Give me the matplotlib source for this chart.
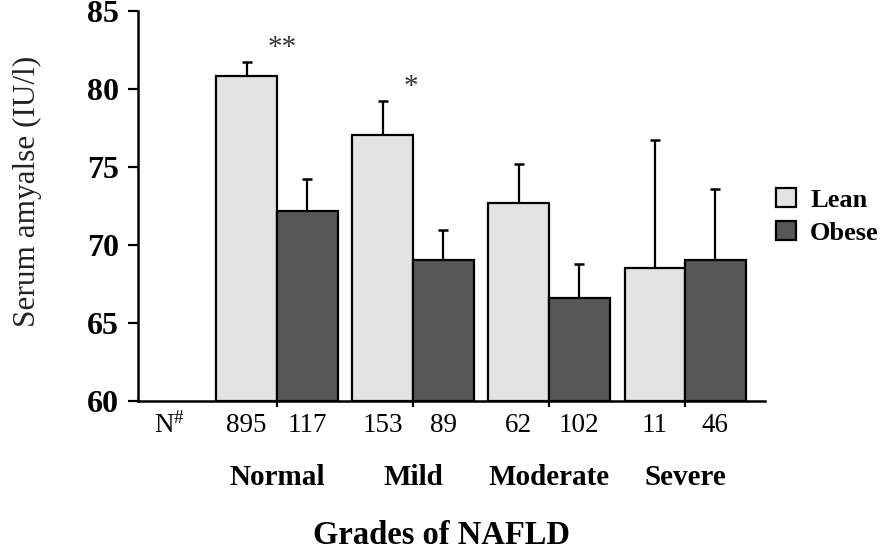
import matplotlib
matplotlib.use("Agg")
import matplotlib.pyplot as plt
import numpy as np

grades = ["Normal", "Mild", "Moderate", "Severe"]
lean = [80.8, 77.05, 72.7, 68.5]
lean_err = [0.9, 2.15, 2.5, 8.2]
obese = [72.2, 69.0, 66.6, 69.0]
obese_err = [2.0, 1.95, 2.2, 4.6]
n_lean = [895, 153, 62, 11]
n_obese = [117, 89, 102, 46]
stars = ["**", "*"]
star_x = [0.04, 0.985]
star_y = [82.6, 80.1]

plt.rcParams["font.family"] = ["Liberation Serif", "DejaVu Serif"]
plt.rcParams["mathtext.fontset"] = "custom"
plt.rcParams["mathtext.rm"] = "Liberation Serif"
plt.rcParams["mathtext.default"] = "regular"

W, H = 883, 554
fig = plt.figure(figsize=(W / 100, H / 100), dpi=100)
ax = fig.add_axes([138 / W, 1 - 401 / H, (765 - 138) / W, (401 - 10.7) / H])

x = np.arange(len(grades))
w = 0.445
lean_col = "#e3e3e3"
obese_col = "#575757"

b1 = ax.bar(x - w / 2, np.array(lean) - 60, w, bottom=60, color=lean_col,
            edgecolor="black", linewidth=1.6, label="Lean", zorder=2)
b2 = ax.bar(x + w / 2, np.array(obese) - 60, w, bottom=60, color=obese_col,
            edgecolor="black", linewidth=1.6, label="Obese", zorder=2)
ax.errorbar(x - w / 2, lean, yerr=[np.zeros(4), lean_err], fmt="none",
            ecolor="black", elinewidth=1.6, capsize=3.5, capthick=1.8, zorder=1)
ax.errorbar(x + w / 2, obese, yerr=[np.zeros(4), obese_err], fmt="none",
            ecolor="black", elinewidth=1.6, capsize=3.5, capthick=1.8, zorder=1)

for s, sx, sy in zip(stars, star_x, star_y):
    ax.text(sx, sy, s, ha="center", va="center", fontsize=21, color="#333333")

ax.set_xlim(-1.022, 3.588)
ax.set_ylim(60, 85)
ax.set_yticks([60, 65, 70, 75, 80, 85])
ax.set_xticks(x)
ax.set_xticklabels([])
ax.tick_params(axis="y", direction="out", length=7, width=1.6, labelsize=23, pad=6.5)
ax.tick_params(axis="x", direction="out", length=4, width=1.6)
for lab in ax.get_yticklabels():
    lab.set_fontweight("bold")
for side in ["top", "right"]:
    ax.spines[side].set_visible(False)
for side in ["left", "bottom"]:
    ax.spines[side].set_linewidth(1.8)

ax.set_ylabel("Serum amyalse (IU/l)", fontsize=22.5, color="#222222")
ax.yaxis.set_label_coords(-0.153, 0.538)

trans = ax.get_xaxis_transform()
ax.text(-0.787, -0.062, r"N$^{\#}$", transform=trans, ha="center", va="center",
        fontsize=19.5)
for i in range(len(grades)):
    ax.text(x[i] - w / 2, -0.062, str(n_lean[i]), transform=trans,
            ha="center", va="center", fontsize=19.5)
    ax.text(x[i] + w / 2, -0.062, str(n_obese[i]), transform=trans,
            ha="center", va="center", fontsize=19.5)
    ax.text(x[i], -0.195, grades[i], transform=trans, ha="center", va="center",
            fontsize=21, fontweight="bold")

fig.text(442 / W, 1 - 535 / H, "Grades of NAFLD", ha="center", va="center",
         fontsize=23.5, fontweight="bold")

fig.legend(handles=[b1, b2], loc="upper left",
           bbox_to_anchor=(752 / W, 1 - 164 / H), frameon=False,
           prop={"size": 19, "weight": "bold"}, handlelength=0.75,
           handleheight=0.75, handletextpad=0.55, labelspacing=0.35)

fig.savefig("out.png", dpi=100)
